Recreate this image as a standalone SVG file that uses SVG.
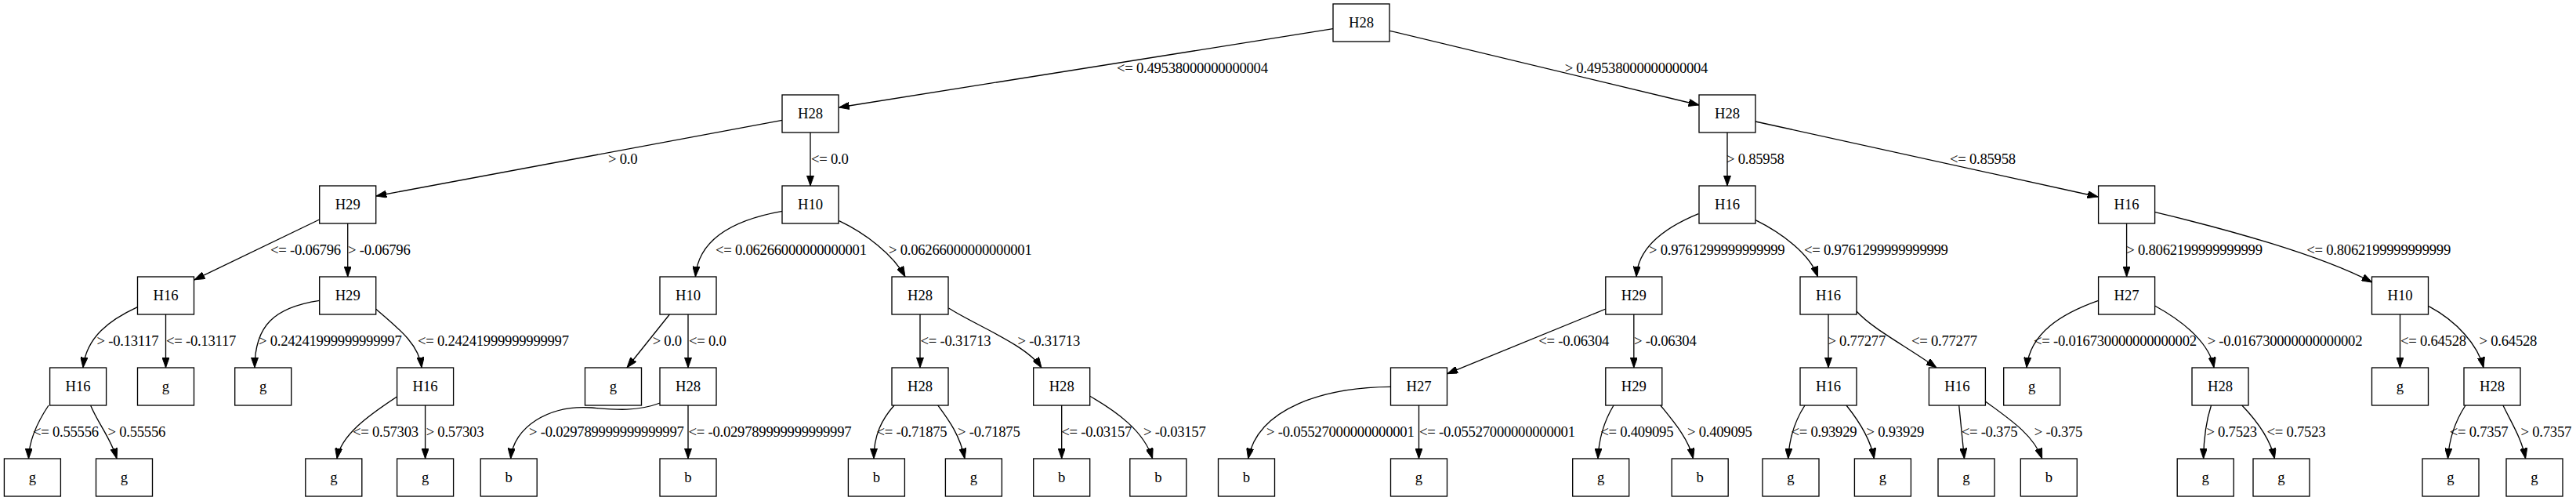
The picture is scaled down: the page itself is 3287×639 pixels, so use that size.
<svg xmlns="http://www.w3.org/2000/svg" width="3287" height="639" viewBox="0 0 3287 639">
<style>
.node rect{fill:#fff;stroke:#000;stroke-width:1.33}
.node text{font-family:"Liberation Serif","Times New Roman",serif;font-size:18.67px;text-anchor:middle;fill:#000}
.edges path{fill:none;stroke:#000;stroke-width:1.33;marker-end:url(#arr)}
.edges text{font-family:"Liberation Serif","Times New Roman",serif;font-size:18.67px;letter-spacing:-0.25px;fill:#000}
</style>
<defs>
<marker id="arr" viewBox="0 0 10 7" refX="10" refY="3.5" markerWidth="13.3" markerHeight="9.3" markerUnits="userSpaceOnUse" orient="auto">
<path d="M0,0 L10,3.5 L0,7 z" fill="#000" stroke="#000" stroke-width="0.7"/>
</marker>
</defs>
<rect width="3287" height="639" fill="#fff"/>
<g class="edges" id="connectors">
<path d="M1701,36.7 L1070.5,137"/><text x="1425" y="92.5">&lt;= 0.49538000000000004</text>
<path d="M1773.3,39.3 L2168,134"/><text x="1996.7" y="92.5">&gt; 0.49538000000000004</text>
<path d="M998,153.3 L480,250"/><text x="776" y="208.5">&gt; 0.0</text>
<path d="M1034,169 L1034,237"/><text x="1035" y="208.5">&lt;= 0.0</text>
<path d="M407.6,280 L248,357"/><text x="345" y="324.5">&lt;= -0.06796</text>
<path d="M443.7,285 L443.7,353"/><text x="444" y="324.5">&gt; -0.06796</text>
<path d="M175.4,391.7 C140,408 110,430 106,469"/><text x="123.5" y="440.5">&gt; -0.13117</text>
<path d="M211.5,401 L211.5,469"/><text x="212" y="440.5">&lt;= -0.13117</text>
<path d="M62,517 C48,538 37,560 36.5,585"/><text x="42" y="556.5">&lt;= 0.55556</text>
<path d="M115.7,517.3 C125,540 142,560 149,585"/><text x="137.5" y="556.5">&gt; 0.55556</text>
<path d="M407.6,383.3 C350,392 325,415 325,469"/><text x="330" y="440.5">&gt; 0.24241999999999997</text>
<path d="M479.8,394.3 C510,420 535,440 538,469"/><text x="533" y="440.5">&lt;= 0.24241999999999997</text>
<path d="M506.5,506 C470,530 435,555 430,585"/><text x="450" y="556.5">&lt;= 0.57303</text>
<path d="M542.6,517 L542.6,585"/><text x="543.7" y="556.5">&gt; 0.57303</text>
<path d="M998.3,269.3 C915,284 890,318 887.4,353"/><text x="913" y="324.5">&lt;= 0.06266000000000001</text>
<path d="M1070.7,281.7 C1105,298 1140,325 1155,353"/><text x="1134" y="324.5">&gt; 0.06266000000000001</text>
<path d="M854.4,401 L800,469"/><text x="832.7" y="440.5">&gt; 0.0</text>
<path d="M878,401 L878,469"/><text x="879" y="440.5">&lt;= 0.0</text>
<path d="M842.3,514 C810,526 780,522 755,520 C700,516 655,545 651.7,585"/><text x="675" y="556.5">&gt; -0.029789999999999997</text>
<path d="M878,517 L878,585"/><text x="878.5" y="556.5">&lt;= -0.029789999999999997</text>
<path d="M1174,401 L1174,469"/><text x="1174.5" y="440.5">&lt;= -0.31713</text>
<path d="M1210.5,393 C1245,415 1310,440 1329,469"/><text x="1298.5" y="440.5">&gt; -0.31713</text>
<path d="M1141,517 C1125,535 1115,555 1115,585"/><text x="1118.6" y="556.5">&lt;= -0.71875</text>
<path d="M1196.7,517 C1210,535 1225,555 1231,585"/><text x="1222" y="556.5">&gt; -0.71875</text>
<path d="M1354.7,517 L1354.7,585"/><text x="1354.3" y="556.5">&lt;= -0.03157</text>
<path d="M1390.3,505 C1425,525 1460,550 1470.6,585"/><text x="1459" y="556.5">&gt; -0.03157</text>
<path d="M2204,169 L2204,237"/><text x="2203" y="208.5">&gt; 0.85958</text>
<path d="M2240,155 L2677,251"/><text x="2488" y="208.5">&lt;= 0.85958</text>
<path d="M2167.3,272.7 C2125,290 2090,315 2088,353"/><text x="2104" y="324.5">&gt; 0.9761299999999999</text>
<path d="M2240,280.7 C2275,298 2310,325 2319.5,353"/><text x="2302" y="324.5">&lt;= 0.9761299999999999</text>
<path d="M2049,394 L1846.7,476.7"/><text x="1963.3" y="440.5">&lt;= -0.06304</text>
<path d="M2084.8,401 L2084.8,469"/><text x="2085" y="440.5">&gt; -0.06304</text>
<path d="M1774.3,493.3 C1690,494 1605,520 1592.7,585"/><text x="1616" y="556.5">&gt; -0.05527000000000001</text>
<path d="M1810.5,517 L1810.5,585"/><text x="1811" y="556.5">&lt;= -0.05527000000000001</text>
<path d="M2059,517 C2047,537 2040,560 2039,585"/><text x="2042.3" y="556.5">&lt;= 0.409095</text>
<path d="M2118.8,517 C2135,537 2155,560 2160.5,585"/><text x="2153" y="556.5">&gt; 0.409095</text>
<path d="M2333,401 L2333,469"/><text x="2332.4" y="440.5">&gt; 0.77277</text>
<path d="M2368.7,396.7 C2390,420 2430,440 2471,469"/><text x="2439" y="440.5">&lt;= 0.77277</text>
<path d="M2303,517 C2290,537 2283,560 2281.7,585"/><text x="2285.5" y="556.5">&lt;= 0.93929</text>
<path d="M2356,517 C2372,537 2387,560 2391.4,585"/><text x="2381.6" y="556.5">&gt; 0.93929</text>
<path d="M2499.7,517 L2506.5,585"/><text x="2502.7" y="556.5">&lt;= -0.375</text>
<path d="M2533,511.7 C2565,535 2595,555 2605.7,585"/><text x="2595.8" y="556.5">&gt; -0.375</text>
<path d="M2713.6,285 L2713.6,353"/><text x="2713.3" y="324.5">&gt; 0.8062199999999999</text>
<path d="M2750,270.7 C2840,292 2960,325 3026.7,360"/><text x="2943.3" y="324.5">&lt;= 0.8062199999999999</text>
<path d="M2677.6,383.3 C2630,400 2590,425 2586,469"/><text x="2595" y="440.5">&lt;= -0.016730000000000002</text>
<path d="M2749.5,390 C2790,412 2820,440 2825,469"/><text x="2816.7" y="440.5">&gt; -0.016730000000000002</text>
<path d="M2821.5,517 C2815,537 2812,560 2811.6,585"/><text x="2815.4" y="556.5">&gt; 0.7523</text>
<path d="M2860.8,517 C2880,537 2897,560 2902.4,585"/><text x="2892.6" y="556.5">&lt;= 0.7523</text>
<path d="M3062.5,401 L3062.5,469"/><text x="3063" y="440.5">&lt;= 0.64528</text>
<path d="M3099.2,390.7 C3135,410 3162,440 3169,469"/><text x="3163.6" y="440.5">&gt; 0.64528</text>
<path d="M3146,517 C3133,537 3125,560 3123.5,585"/><text x="3125.7" y="556.5">&lt;= 0.7357</text>
<path d="M3193.9,517 C3205,540 3218,560 3222.6,585"/><text x="3216.6" y="556.5">&gt; 0.7357</text>
</g>
<g class="node" id="n0"><rect x="1701" y="5" width="72" height="48"/><text x="1737" y="35">H28</text></g>
<g class="node" id="n1"><rect x="998" y="121" width="72" height="48"/><text x="1034" y="151">H28</text></g>
<g class="node" id="n2"><rect x="2168" y="121" width="72" height="48"/><text x="2204" y="151">H28</text></g>
<g class="node" id="n3"><rect x="407.7" y="237" width="72" height="48"/><text x="443.7" y="267">H29</text></g>
<g class="node" id="n4"><rect x="998" y="237" width="72" height="48"/><text x="1034" y="267">H10</text></g>
<g class="node" id="n5"><rect x="2168" y="237" width="72" height="48"/><text x="2204" y="267">H16</text></g>
<g class="node" id="n6"><rect x="2677.6" y="237" width="72" height="48"/><text x="2713.6" y="267">H16</text></g>
<g class="node" id="n7"><rect x="175.5" y="353" width="72" height="48"/><text x="211.5" y="383">H16</text></g>
<g class="node" id="n8"><rect x="407.7" y="353" width="72" height="48"/><text x="443.7" y="383">H29</text></g>
<g class="node" id="n9"><rect x="842" y="353" width="72" height="48"/><text x="878" y="383">H10</text></g>
<g class="node" id="n10"><rect x="1138" y="353" width="72" height="48"/><text x="1174" y="383">H28</text></g>
<g class="node" id="n11"><rect x="2048.8" y="353" width="72" height="48"/><text x="2084.8" y="383">H29</text></g>
<g class="node" id="n12"><rect x="2297" y="353" width="72" height="48"/><text x="2333" y="383">H16</text></g>
<g class="node" id="n13"><rect x="2677.6" y="353" width="72" height="48"/><text x="2713.6" y="383">H27</text></g>
<g class="node" id="n14"><rect x="3026.5" y="353" width="72" height="48"/><text x="3062.5" y="383">H10</text></g>
<g class="node" id="n15"><rect x="63.6" y="469" width="72" height="48"/><text x="99.6" y="499">H16</text></g>
<g class="node" id="n16"><rect x="175.5" y="469" width="72" height="48"/><text x="211.5" y="499">g</text></g>
<g class="node" id="n17"><rect x="299.7" y="469" width="72" height="48"/><text x="335.7" y="499">g</text></g>
<g class="node" id="n18"><rect x="506.6" y="469" width="72" height="48"/><text x="542.6" y="499">H16</text></g>
<g class="node" id="n19"><rect x="746.5" y="469" width="72" height="48"/><text x="782.5" y="499">g</text></g>
<g class="node" id="n20"><rect x="842" y="469" width="72" height="48"/><text x="878" y="499">H28</text></g>
<g class="node" id="n21"><rect x="1138" y="469" width="72" height="48"/><text x="1174" y="499">H28</text></g>
<g class="node" id="n22"><rect x="1318.7" y="469" width="72" height="48"/><text x="1354.7" y="499">H28</text></g>
<g class="node" id="n23"><rect x="1774.5" y="469" width="72" height="48"/><text x="1810.5" y="499">H27</text></g>
<g class="node" id="n24"><rect x="2048.8" y="469" width="72" height="48"/><text x="2084.8" y="499">H29</text></g>
<g class="node" id="n25"><rect x="2297" y="469" width="72" height="48"/><text x="2333" y="499">H16</text></g>
<g class="node" id="n26"><rect x="2461.4" y="469" width="72" height="48"/><text x="2497.4" y="499">H16</text></g>
<g class="node" id="n27"><rect x="2556.7" y="469" width="72" height="48"/><text x="2592.7" y="499">g</text></g>
<g class="node" id="n28"><rect x="2797" y="469" width="72" height="48"/><text x="2833" y="499">H28</text></g>
<g class="node" id="n29"><rect x="3026.5" y="469" width="72" height="48"/><text x="3062.5" y="499">g</text></g>
<g class="node" id="n30"><rect x="3144" y="469" width="72" height="48"/><text x="3180" y="499">H28</text></g>
<g class="node" id="n31"><rect x="5.4" y="585" width="72" height="48"/><text x="41.4" y="615">g</text></g>
<g class="node" id="n32"><rect x="122.5" y="585" width="72" height="48"/><text x="158.5" y="615">g</text></g>
<g class="node" id="n33"><rect x="389.8" y="585" width="72" height="48"/><text x="425.8" y="615">g</text></g>
<g class="node" id="n34"><rect x="506.6" y="585" width="72" height="48"/><text x="542.6" y="615">g</text></g>
<g class="node" id="n35"><rect x="613.2" y="585" width="72" height="48"/><text x="649.2" y="615">b</text></g>
<g class="node" id="n36"><rect x="842" y="585" width="72" height="48"/><text x="878" y="615">b</text></g>
<g class="node" id="n37"><rect x="1082.4" y="585" width="72" height="48"/><text x="1118.4" y="615">b</text></g>
<g class="node" id="n38"><rect x="1206.4" y="585" width="72" height="48"/><text x="1242.4" y="615">g</text></g>
<g class="node" id="n39"><rect x="1318.7" y="585" width="72" height="48"/><text x="1354.7" y="615">b</text></g>
<g class="node" id="n40"><rect x="1441.8" y="585" width="72" height="48"/><text x="1477.8" y="615">b</text></g>
<g class="node" id="n41"><rect x="1554.5" y="585" width="72" height="48"/><text x="1590.5" y="615">b</text></g>
<g class="node" id="n42"><rect x="1774.5" y="585" width="72" height="48"/><text x="1810.5" y="615">g</text></g>
<g class="node" id="n43"><rect x="2006.7" y="585" width="72" height="48"/><text x="2042.7" y="615">g</text></g>
<g class="node" id="n44"><rect x="2133.2" y="585" width="72" height="48"/><text x="2169.2" y="615">b</text></g>
<g class="node" id="n45"><rect x="2249" y="585" width="72" height="48"/><text x="2285" y="615">g</text></g>
<g class="node" id="n46"><rect x="2366.4" y="585" width="72" height="48"/><text x="2402.4" y="615">g</text></g>
<g class="node" id="n47"><rect x="2473" y="585" width="72" height="48"/><text x="2509" y="615">g</text></g>
<g class="node" id="n48"><rect x="2578.3" y="585" width="72" height="48"/><text x="2614.3" y="615">b</text></g>
<g class="node" id="n49"><rect x="2778.2" y="585" width="72" height="48"/><text x="2814.2" y="615">g</text></g>
<g class="node" id="n50"><rect x="2875" y="585" width="72" height="48"/><text x="2911" y="615">g</text></g>
<g class="node" id="n51"><rect x="3091" y="585" width="72" height="48"/><text x="3127" y="615">g</text></g>
<g class="node" id="n52"><rect x="3198" y="585" width="72" height="48"/><text x="3234" y="615">g</text></g>
</svg>
